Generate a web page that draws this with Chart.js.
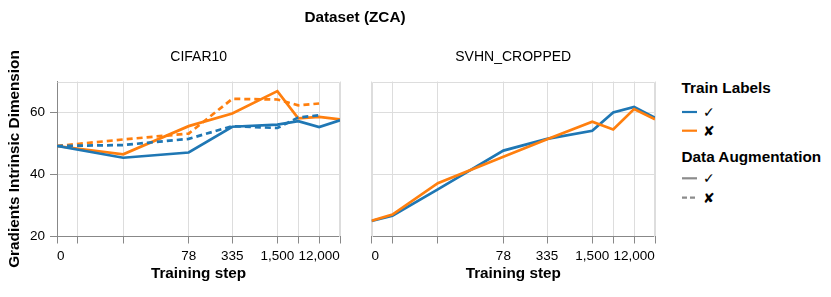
<!DOCTYPE html>
<html><head><meta charset="utf-8">
<script src="https://cdn.jsdelivr.net/npm/chart.js@4.4.0/dist/chart.umd.min.js"></script>
<style>
body{margin:0;background:#fff;width:831px;height:297px;overflow:hidden;position:relative;font-family:"Liberation Sans",Arial,Helvetica,sans-serif;}
.t{position:absolute;white-space:nowrap;color:#000;height:20px;line-height:20px;}
.c{position:absolute;top:0;}
.sym{font-family:"DejaVu Sans",sans-serif;font-weight:bold;font-size:14px;}
svg{position:absolute;}
</style></head><body>
<canvas id="c1" class="c" width="345" height="297" style="left:0"></canvas>
<canvas id="c2" class="c" width="305" height="297" style="left:355px"></canvas>

<div class="t" style="left:255px;width:200px;text-align:center;top:6.5px;font-weight:bold;font-size:15.3px">Dataset (ZCA)</div>
<div class="t" id="h1" style="left:57px;width:283.5px;text-align:center;top:46px;font-size:14px"></div>
<div class="t" id="h2" style="left:371.5px;width:283.5px;text-align:center;top:46px;font-size:14px"></div>

<div class="t" style="left:681.5px;top:78px;font-weight:bold;font-size:15.3px">Train Labels</div>
<svg style="left:682px;top:102px" width="16" height="40">
  <line x1="0" y1="10" x2="15" y2="10" stroke="#1f77b4" stroke-width="2.2"/>
  <line x1="0" y1="28.7" x2="15" y2="28.7" stroke="#ff7f0e" stroke-width="2.2"/>
</svg>
<div class="t sym" style="left:703px;top:102px">✓</div>
<div class="t sym" style="left:703px;top:120.7px">✘</div>

<div class="t" style="left:681.5px;top:147.3px;font-weight:bold;font-size:15.3px">Data Augmentation</div>
<svg style="left:682px;top:168px" width="16" height="40">
  <line x1="0" y1="10.3" x2="15" y2="10.3" stroke="#8c8c8c" stroke-width="2.2"/>
  <line x1="0" y1="29.7" x2="15" y2="29.7" stroke="#8c8c8c" stroke-width="2.2" stroke-dasharray="5,3"/>
</svg>
<div class="t sym" style="left:703px;top:168.3px">✓</div>
<div class="t sym" style="left:703px;top:187.7px">✘</div>

<script>
// ---- data ----
const panels = ['CIFAR10', 'SVHN_CROPPED'];
const steps = [0, 1, 8, 78, 335, 1500, 3000, 6000, 12000];
const stepTickLabels = ['0', '', '', '78', '335', '1,500', '', '12,000', ''];
const yTicks = [20, 40, 60];

// CIFAR10
const cifarLabelsAug   = [49.2, null, 45.4, 47.1, 55.4, 56.1, 57.2, 55.3, 57.5];
const cifarNoLabelsAug = [49.2, null, 46.5, 55.6, 59.7, 66.9, 58.1, 58.6, 57.8];
const cifarLabelsNoAug   = [49.2, null, 49.5, 51.5, 55.6, 55.0, 58.4, 59.1, null];
const cifarNoLabelsNoAug = [49.2, null, 51.3, 53.2, 64.4, 64.2, 62.3, 62.9, null];
// SVHN_CROPPED
const svhnLabelsAug   = [25.0, 26.7, 35.2, 47.7, 51.5, 54.1, 60.0, 61.8, 58.3];
const svhnNoLabelsAug = [25.1, 27.1, 37.2, 45.7, 51.4, 57.0, 54.5, 61.1, 57.8];

const BLUE = '#1f77b4', ORANGE = '#ff7f0e';

document.getElementById('h1').textContent = panels[0];
document.getElementById('h2').textContent = panels[1];

// custom log(1+x) scale
class Log1pScale extends Chart.LinearScale {
  getPixelForValue(v) {
    const a = Math.log1p(this.min), b = Math.log1p(this.max);
    return this.getPixelForDecimal((Math.log1p(v) - a) / (b - a));
  }
  getValueForPixel(p) {
    const a = Math.log1p(this.min), b = Math.log1p(this.max);
    return Math.expm1(a + this.getDecimalForPixel(p) * (b - a));
  }
}
Log1pScale.id = 'log1p';
Log1pScale.defaults = Chart.LinearScale.defaults;
Chart.register(Log1pScale);

const pts = vals => steps.map((s, i) => ({x: s, y: vals[i]}));
const ds = (vals, color, dashed) => ({
  data: pts(vals), borderColor: color, borderWidth: 2.7, borderDash: dashed ? [6, 4] : [],
  pointRadius: 0, tension: 0, spanGaps: true, fill: false
});

const framePlugin = (left) => ({
  id: 'frame',
  beforeDatasetsDraw(chart) {
    const {ctx, chartArea: a} = chart;
    ctx.save();
    ctx.strokeStyle = '#dddddd'; ctx.lineWidth = 1;
    ctx.beginPath();
    const L = Math.round(a.left) + 0.5, R = Math.round(a.right) - 0.5, T = Math.round(a.top) + 0.5, B = Math.round(a.bottom);
    ctx.moveTo(L, T); ctx.lineTo(R, T); ctx.lineTo(R, B);
    if (left) { ctx.moveTo(L, T); ctx.lineTo(L, B); }
    ctx.stroke();
    ctx.restore();
  }
});

const tickFont = {family: '"Liberation Sans", Arial, Helvetica, sans-serif', size: 13.5};
const titleFont = {family: '"Liberation Sans", Arial, Helvetica, sans-serif', size: 15.3, weight: 'bold'};

function xScale() {
  return {
    type: 'log1p', min: 0, max: 12000,
    afterBuildTicks: s => { s.ticks = steps.map(v => ({value: v})); },
    afterFit: s => { s.height = 60.5; },
    ticks: {
      autoSkip: false, maxRotation: 0, minRotation: 0, align: 'inner', padding: 5,
      color: '#000', font: tickFont,
      callback: (v, i) => stepTickLabels[i]
    },
    grid: {color: '#dddddd', tickColor: '#888888', tickLength: 7, drawTicks: true},
    border: {display: true, color: '#888888'},
    title: {display: true, text: 'Training step', color: '#000', font: titleFont, padding: {top: 0, bottom: 14.5}}
  };
}

function yScale(showAxis) {
  const s = {
    type: 'linear', min: 20, max: 70,
    afterBuildTicks: sc => { sc.ticks = yTicks.map(v => ({value: v})); },
    grid: {color: '#dddddd', tickColor: '#888888', tickLength: 7, drawTicks: showAxis},
    border: {display: showAxis, color: '#888888'},
    ticks: {display: showAxis, color: '#000', font: tickFont, padding: 5},
  };
  if (showAxis) {
    s.afterFit = sc => { sc.width = 57; };
    s.title = {display: true, text: 'Gradients Intrinsic Dimension', color: '#000', font: titleFont, padding: {top: 6, bottom: 0}};
  } else {
    s.afterFit = sc => { sc.width = 0; };
  }
  return s;
}

const common = (padLeft, padRight) => ({
  responsive: false, animation: false,
  layout: {padding: {top: 81.5, bottom: 0, left: padLeft, right: padRight}},
  plugins: {legend: {display: false}, tooltip: {enabled: false}},
});

new Chart(document.getElementById('c1'), {
  type: 'line',
  data: {datasets: [
    ds(cifarLabelsNoAug, BLUE, true),
    ds(cifarNoLabelsNoAug, ORANGE, true),
    ds(cifarLabelsAug, BLUE, false),
    ds(cifarNoLabelsAug, ORANGE, false),
  ]},
  options: Object.assign(common(0, 4.5), {scales: {x: xScale(), y: yScale(true)}}),
  plugins: [framePlugin(false)]
});

new Chart(document.getElementById('c2'), {
  type: 'line',
  data: {datasets: [
    ds(svhnNoLabelsAug, ORANGE, false),
    ds(svhnLabelsAug, BLUE, false),
  ]},
  options: Object.assign(common(16.5, 5), {scales: {x: xScale(), y: yScale(false)}}),
  plugins: [framePlugin(true)]
});
</script>
</body></html>
